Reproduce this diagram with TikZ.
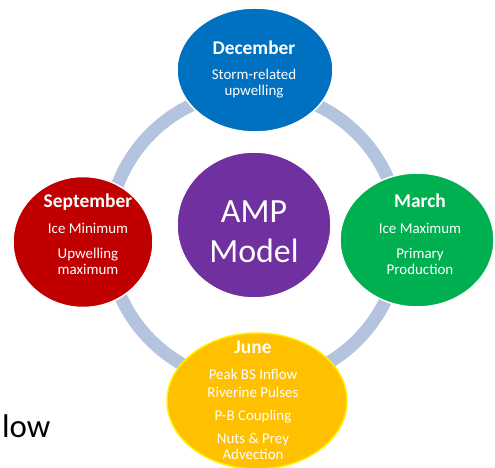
\documentclass[tikz,border=0pt]{standalone}
\usepackage{fontspec}
\setmainfont{Carlito}
\usetikzlibrary{shapes.geometric}
\definecolor{ringc}{RGB}{180,196,222}
\definecolor{decc}{RGB}{0,112,192}
\definecolor{sepc}{RGB}{192,0,0}
\definecolor{marc}{RGB}{0,176,80}
\definecolor{junc}{RGB}{255,192,0}
\definecolor{ampc}{RGB}{112,48,160}
\tikzset{
  bub/.style={ellipse, draw=white, line width=1.5bp, inner sep=0pt},
  ttl/.style={anchor=base, text=white, font=\fontsize{19.5}{19.5}\selectfont\bfseries, inner sep=0pt},
  sub/.style={anchor=base, text=white, font=\fontsize{15}{15}\selectfont, inner sep=0pt},
  big/.style={anchor=base, text=white, font=\fontsize{34}{34}\selectfont, inner sep=0pt},
}
\begin{document}
\begin{tikzpicture}[x=1bp,y=-1bp]
\useasboundingbox (0,0) rectangle (495,468);
\draw[ringc, line width=13bp] (254,237) circle (146);
\node[bub, fill=decc, minimum width=156bp, minimum height=124bp] (dec) at (255,70) {};
\node[bub, fill=sepc, minimum width=140bp, minimum height=131bp] (sep) at (83,242) {};
\node[bub, fill=marc, minimum width=154bp, minimum height=134bp] (mar) at (417,240) {};
\node[bub, fill=junc, draw=yellow, minimum width=180bp, minimum height=136bp] (jun) at (257,401) {};
\node[bub, fill=ampc, minimum width=154bp, minimum height=146bp] (amp) at (254,225) {};
% December
\node[ttl] (dec1) at (254,55) {December};
\node[sub] (dec2) at (254,80) {Storm-related};
\node[sub] (dec3) at (254,96) {upwelling};
% September
\node[ttl] (sep1) at (88,208) {September};
\node[sub] (sep2) at (88,234) {Ice Minimum};
\node[sub] (sep3) at (88,258) {Upwelling};
\node[sub] (sep4) at (88,274) {maximum};
% March
\node[ttl] (mar1) at (420,208) {March};
\node[sub] (mar2) at (420,234) {Ice Maximum};
\node[sub] (mar3) at (420,258) {Primary};
\node[sub] (mar4) at (420,274) {Production};
% June
\node[ttl] (jun1) at (253,353) {June};
\node[sub] (jun2) at (253,379) {Peak BS Inflow};
\node[sub] (jun3) at (253,397) {Riverine Pulses};
\node[sub] (jun4) at (253,420) {P-B Coupling};
\node[sub] (jun5) at (253,443) {Nuts \& Prey};
\node[sub] (jun6) at (253,459) {Advection};
% AMP
\node[big] (amp1) at (254,223) {AMP};
\node[big] (amp2) at (254,262) {Model};
% stray text
\node[anchor=base west, text=black, font=\fontsize{33}{33}\selectfont, inner sep=0pt] (low) at (2,437) {low};
\end{tikzpicture}
\end{document}
